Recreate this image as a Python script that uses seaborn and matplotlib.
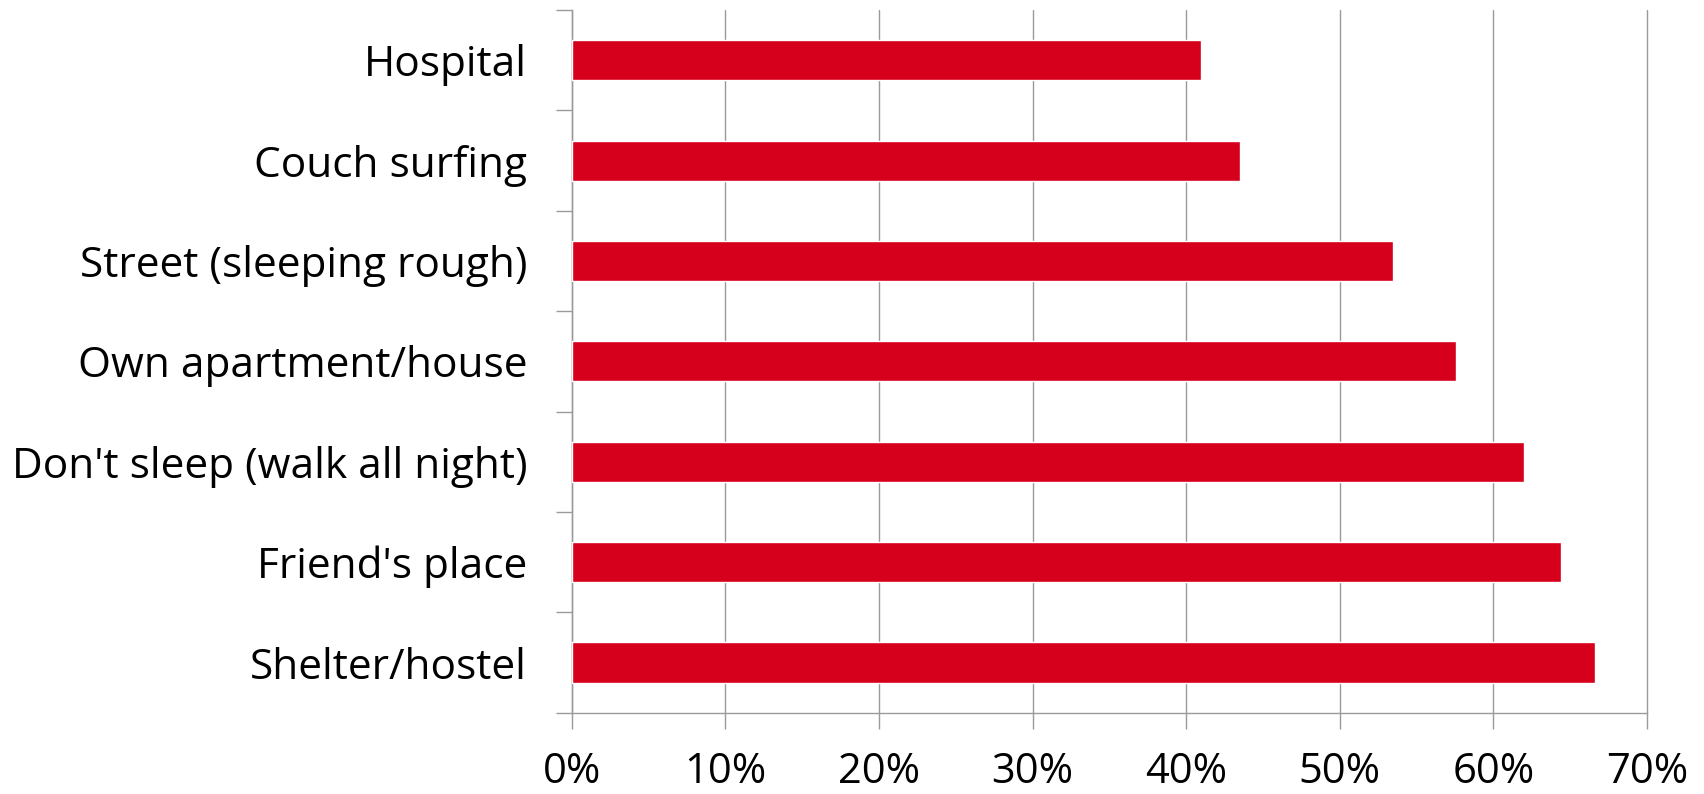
import matplotlib
matplotlib.use("Agg")
import matplotlib.pyplot as plt
import numpy as np
import pandas as pd
import seaborn as sns

# Where people slept, share of respondents
places = ["Hospital", "Couch surfing", "Street (sleeping rough)", "Own apartment/house",
          "Don't sleep (walk all night)", "Friend's place", "Shelter/hostel"]
shares = [41.0, 43.5, 53.5, 57.6, 62.0, 64.4, 66.6]
x_ticks = [0, 10, 20, 30, 40, 50, 60, 70]
x_tick_labels = [f"{t}%" for t in x_ticks]

df = pd.DataFrame({"place": places, "share": shares})

sns.set_theme(style="white")
plt.rcParams["font.family"] = ["Open Sans", "DejaVu Sans"]

fig = plt.figure(figsize=(17.04, 7.94), dpi=100)
ax = fig.add_axes([0.3355, 0.1024, 0.9665 - 0.3355, 0.9874 - 0.1024])

sns.barplot(data=df, x="share", y="place", order=places, color="#D7001C",
            width=0.4, saturation=1, ax=ax, zorder=3)

ax.set_xlim(0, 70)
ax.set_ylim(len(places) - 0.5, -0.5)
ax.set_xticks(x_ticks)
ax.set_xticklabels(x_tick_labels)

# Category labels at bar centres, tick marks at category boundaries
ax.set_yticks(range(len(places)))
ax.set_yticklabels(places)
ax.set_yticks(np.arange(-0.5, len(places), 1.0), minor=True)
ax.tick_params(axis="y", which="major", length=0, pad=32, labelsize=30.5, labelcolor="black")
ax.tick_params(axis="y", which="minor", left=True, length=11.5, width=1, color="#9a9a9a")
ax.tick_params(axis="x", which="major", bottom=True, length=11.5, width=1, color="#9a9a9a",
               pad=16, labelsize=30, labelcolor="black")

ax.grid(axis="x", color="#9a9a9a", linewidth=1, zorder=0)
ax.grid(axis="y", visible=False)
for gl in ax.get_xgridlines():
    gl.set_clip_on(False)
ax.set_axisbelow(True)

for side in ["top", "right"]:
    ax.spines[side].set_visible(False)
for side in ["left", "bottom"]:
    ax.spines[side].set_color("#9a9a9a")
    ax.spines[side].set_linewidth(1)

ax.set_xlabel("")
ax.set_ylabel("")

fig.savefig("out.png", dpi=100)
